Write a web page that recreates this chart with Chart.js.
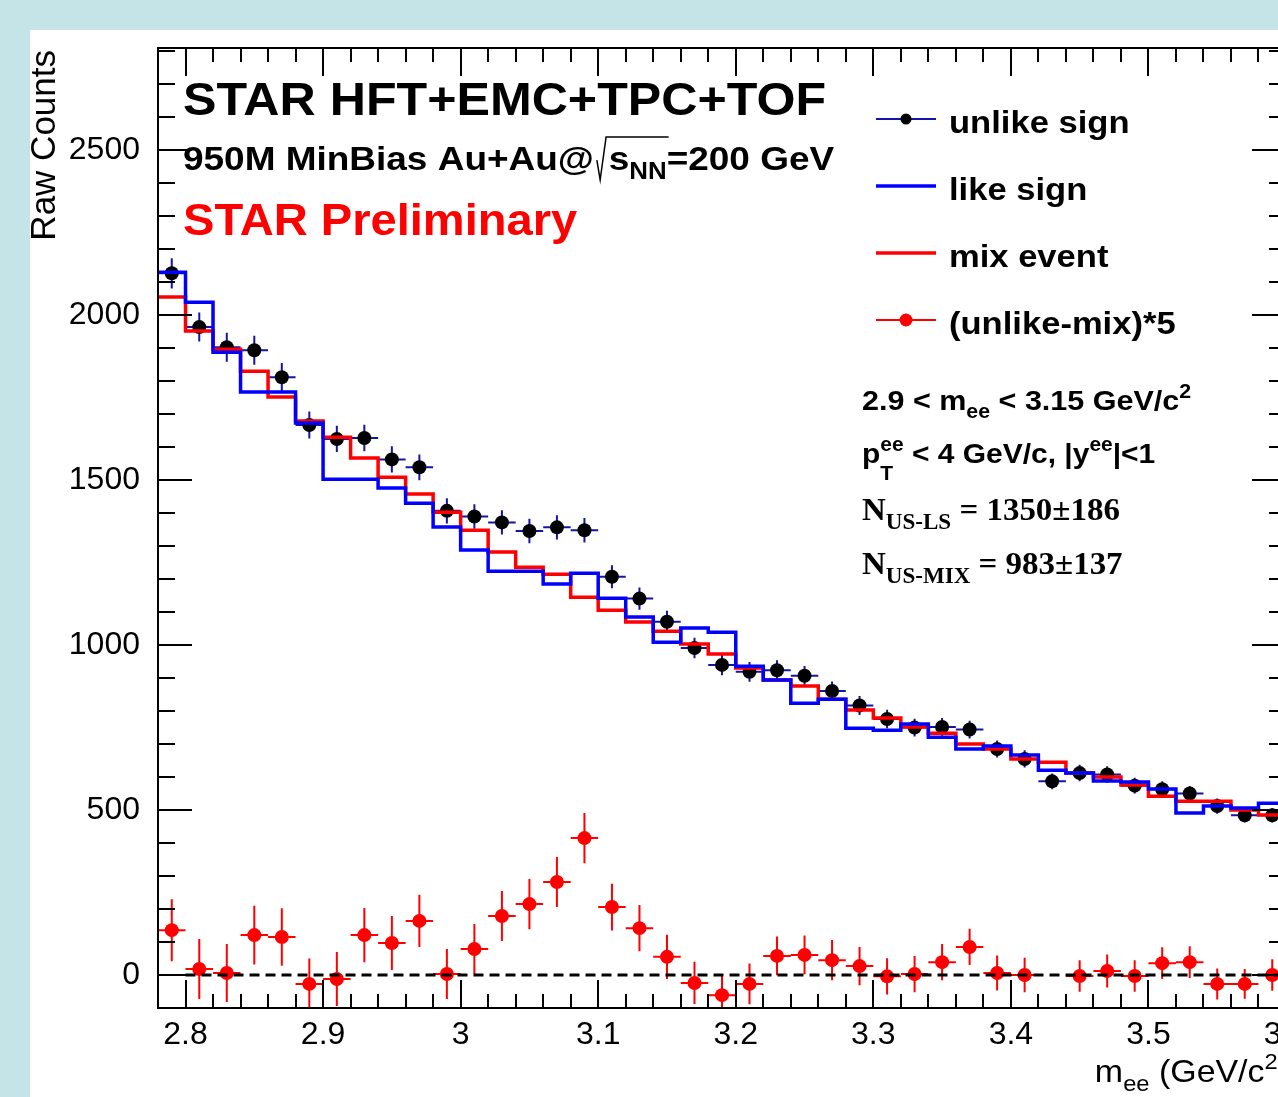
<!DOCTYPE html>
<html>
<head>
<meta charset="utf-8">
<script src="https://cdn.jsdelivr.net/npm/chart.js@4.4.1/dist/chart.umd.min.js"></script>
<style>
    html, body { margin: 0; padding: 0; overflow: hidden; width: 1278px; height: 1097px; background: #c4e4e7; }
    #panel { position: absolute; left: 30px; top: 30px; width: 1270px; height: 1067px; background: #fff; }
</style>
</head>
<body>
<div id="panel"><canvas id="massChart"></canvas></div>
<script>
const SANS = '"Liberation Sans", Arial, Helvetica, sans-serif';
const SERIF = '"Liberation Serif", "Times New Roman", serif';

// bin centres (GeV/c^2), bins are 0.02 wide
const massBins = [2.79, 2.81, 2.83, 2.85, 2.87, 2.89, 2.91, 2.93, 2.95, 2.97, 2.99,
    3.01, 3.03, 3.05, 3.07, 3.09, 3.11, 3.13, 3.15, 3.17, 3.19, 3.21, 3.23, 3.25, 3.27,
    3.29, 3.31, 3.33, 3.35, 3.37, 3.39, 3.41, 3.43, 3.45, 3.47, 3.49, 3.51, 3.53, 3.55,
    3.57, 3.59];
const binHalf = 0.01;

const unlikeSign = [2127, 1964, 1903, 1894, 1812, 1667, 1625, 1628, 1563, 1539, 1407,
    1390, 1372, 1346, 1357, 1348, 1207, 1141, 1071, 991, 940, 919, 924, 907, 861,
    817, 776, 750, 752, 744, 685, 655, 587, 612, 608, 574, 563, 550, 512, 484, 484];
const unlikeErr = [46, 44, 44, 44, 43, 41, 40, 40, 40, 39, 38, 37, 37, 37, 37, 37, 35,
    34, 33, 31, 31, 30, 30, 30, 29, 29, 28, 27, 27, 27, 26, 26, 24, 25, 25, 24, 24, 23,
    23, 22, 22];

const likeSign = [2130, 2039, 1888, 1767, 1767, 1673, 1503, 1503, 1476, 1430, 1358,
    1288, 1224, 1224, 1185, 1218, 1142, 1085, 1009, 1052, 1039, 936, 894, 824, 836,
    748, 742, 761, 721, 685, 694, 667, 621, 612, 588, 585, 564, 491, 512, 506, 521];

const mixEvent = [2055, 1952, 1897, 1830, 1752, 1679, 1630, 1567, 1509, 1458, 1403,
    1348, 1282, 1236, 1215, 1145, 1106, 1070, 1042, 1003, 973, 931, 894, 876, 836,
    803, 779, 752, 733, 700, 685, 655, 645, 612, 600, 576, 542, 527, 527, 500, 485];

const unlikeMinusMix = [136, 18, 6, 121, 115, -27, -12, 121, 97, 164, 3, 79, 179, 215,
    282, 415, 206, 142, 55, -24, -61, -27, 58, 61, 45, 27, -4, 3, 39, 85, 6, 0, null,
    -3, 12, -3, 36, 39, -27, -27, 0];
const unlikeMinusMixErr = [94, 91, 88, 89, 87, 77, 82, 82, 82, 79, 76, 76, 76, 76, 76,
    76, 71, 70, 67, 64, 61, 62, 59, 59, 61, 58, 55, 55, 55, 55, 53, 52, null, 48, 50, 48,
    48, 48, 47, 45, 48];

const xTickLabels = [2.8, 2.9, 3.0, 3.1, 3.2, 3.3, 3.4, 3.5, 3.6];
const yTickLabels = [0, 500, 1000, 1500, 2000, 2500];

function histPoints(values) {
    const pts = massBins.map((m, i) => ({ x: m - binHalf, y: values[i] }));
    pts.push({ x: massBins[massBins.length - 1] + binHalf, y: values[values.length - 1] });
    return pts;
}

function markerPoints(values) {
    return massBins.map((m, i) => ({ x: m, y: values[i] }));
}

// text with sub/superscripts; returns width drawn
function drawRich(ctx, x, y, parts, o) {
    const size = o.size, sx = o.sx || 1;
    const fontFor = s => `${o.weight || "normal"} ${s}px ${o.family || SANS}`;
    ctx.save();
    ctx.translate(x, y);
    ctx.scale(sx, 1);
    ctx.fillStyle = o.color || "#000";
    ctx.textBaseline = "alphabetic";
    ctx.textAlign = "left";
    let total = 0;
    parts.forEach(p => {
        ctx.font = fontFor(p.sub || p.sup ? size * 0.7 : size);
        if (!p.keep) total += ctx.measureText(p.t).width;
    });
    let cx = o.align === "right" ? -total : 0;
    parts.forEach(p => {
        const s = p.sub || p.sup ? size * 0.7 : size;
        ctx.font = fontFor(s);
        let dy = p.sub ? size * 0.28 : p.sup ? -size * 0.42 : 0;
        if (p.dy !== undefined) dy = size * p.dy;
        ctx.fillText(p.t, cx, dy);
        if (!p.keep) cx += ctx.measureText(p.t).width;
    });
    ctx.restore();
    return total * sx;
}

function drawErrorBars(chart, values, errors, color) {
    const ctx = chart.ctx, xs = chart.scales.x, ys = chart.scales.y;
    ctx.strokeStyle = color;
    ctx.lineWidth = 2;
    ctx.beginPath();
    massBins.forEach((m, i) => {
        const v = values[i];
        if (v === null) return;
        const px = xs.getPixelForValue(m), py = ys.getPixelForValue(v);
        ctx.moveTo(xs.getPixelForValue(m - binHalf), py);
        ctx.lineTo(xs.getPixelForValue(m + binHalf), py);
        ctx.moveTo(px, ys.getPixelForValue(v - errors[i]));
        ctx.lineTo(px, ys.getPixelForValue(v + errors[i]));
    });
    ctx.stroke();
}

// keep Chart.js from reserving room for half-labels at the axis ends
function noEdgePadding(s) {
    s.paddingTop = 0;
    s.paddingBottom = 0;
    s.paddingLeft = 0;
    s.paddingRight = 0;
}

const rootStyle = {
    id: "rootStyle",
    beforeDatasetsDraw(chart) {
        const ctx = chart.ctx, a = chart.chartArea;
        ctx.save();
        ctx.beginPath();
        ctx.rect(a.left, a.top, a.right - a.left, a.bottom - a.top);
        ctx.clip();
        drawErrorBars(chart, unlikeSign, unlikeErr, "#1414a8");
        drawErrorBars(chart, unlikeMinusMix, unlikeMinusMixErr, "#ff0000");
        ctx.restore();
    },
    afterDraw(chart) {
        const ctx = chart.ctx, a = chart.chartArea;
        const xs = chart.scales.x, ys = chart.scales.y;
        ctx.save();

        // frame + inward ticks, ROOT style
        ctx.strokeStyle = "#000";
        ctx.lineWidth = 2;
        ctx.strokeRect(a.left, a.top, a.right - a.left, a.bottom - a.top);
        ctx.beginPath();
        for (let k = 1; k < 41; k++) {
            const v = 2.78 + 0.02 * k;
            const major = Math.abs(v * 10 - Math.round(v * 10)) < 1e-6;
            const len = major ? 28 : 14;
            const px = Math.round(xs.getPixelForValue(v));
            ctx.moveTo(px, a.bottom); ctx.lineTo(px, a.bottom - len);
            ctx.moveTo(px, a.top); ctx.lineTo(px, a.top + len);
        }
        for (let v = 0; v <= 2800; v += 100) {
            const len = v % 500 === 0 ? 34 : 17;
            const py = Math.round(ys.getPixelForValue(v));
            ctx.moveTo(a.left, py); ctx.lineTo(a.left + len, py);
            ctx.moveTo(a.right, py); ctx.lineTo(a.right - len, py);
        }
        ctx.stroke();

        // axis titles
        drawRich(ctx, a.right + 3, a.bottom + 74,
            [{ t: "m" }, { t: "ee", sub: true }, { t: " (GeV/c" }, { t: "2", sup: true }, { t: ")" }],
            { size: 32, sx: 1.06, align: "right" });
        ctx.save();
        ctx.translate(a.left - 103, a.top + 2);
        ctx.rotate(-Math.PI / 2);
        ctx.font = `35px ${SANS}`;
        ctx.fillStyle = "#000";
        ctx.textAlign = "right";
        ctx.textBaseline = "alphabetic";
        ctx.fillText("Raw Counts", 0, 0);
        ctx.restore();

        // header texts
        const tx = a.left + 25;
        drawRich(ctx, tx, a.top + 67, [{ t: "STAR HFT+EMC+TPC+TOF" }],
            { size: 46, weight: "bold", sx: 1.09 });
        const b2 = a.top + 122, f2 = 33, s2 = 1.12;
        const w1 = drawRich(ctx, tx, b2, [{ t: "950M MinBias Au+Au@" }],
            { size: f2, weight: "bold", sx: s2 });
        const x0 = tx + w1 + 3;
        const w2 = drawRich(ctx, x0 + 0.36 * f2, b2, [{ t: "s" }, { t: "NN", sub: true }],
            { size: f2, weight: "bold", sx: s2 });
        ctx.lineWidth = 1.5;
        ctx.beginPath();
        ctx.moveTo(x0, b2 - 0.3 * f2);
        ctx.lineTo(x0 + 0.1 * f2, b2 + 0.3 * f2);
        ctx.lineTo(x0 + 0.28 * f2, b2 - 1.0 * f2);
        ctx.lineTo(x0 + 0.36 * f2 + w2 + 2, b2 - 1.0 * f2);
        ctx.stroke();
        drawRich(ctx, x0 + 0.36 * f2 + w2, b2, [{ t: "=200 GeV" }],
            { size: f2, weight: "bold", sx: s2 });
        drawRich(ctx, tx, a.top + 187, [{ t: "STAR Preliminary" }],
            { size: 44, weight: "bold", sx: 1.07, color: "#ff0000" });

        // legend
        const legend = [
            { label: "unlike sign", line: "#1414a8", lw: 2, dot: "#000" },
            { label: "like sign", line: "#0000ff", lw: 3.5 },
            { label: "mix event", line: "#ff0000", lw: 3.5 },
            { label: "(unlike-mix)*5", line: "#ff0000", lw: 2, dot: "#ff0000" }
        ];
        legend.forEach((e, i) => {
            const base = a.top + 85 + 67 * i, ly = base - 14;
            ctx.strokeStyle = e.line;
            ctx.lineWidth = e.lw;
            ctx.beginPath();
            ctx.moveTo(a.left + 718, ly);
            ctx.lineTo(a.left + 778, ly);
            ctx.stroke();
            if (e.dot) {
                ctx.fillStyle = e.dot;
                ctx.beginPath();
                ctx.arc(a.left + 748, ly, e.dot === "#000" ? 5.5 : 6.5, 0, Math.PI * 2);
                ctx.fill();
            }
            drawRich(ctx, a.left + 791, base, [{ t: e.label }], { size: 32, weight: "bold", sx: 1.08 });
        });

        // cut / yield annotations
        const ax = a.left + 704;
        drawRich(ctx, ax, a.top + 362,
            [{ t: "2.9 < m" }, { t: "ee", sub: true }, { t: " < 3.15 GeV/c" }, { t: "2", sup: true }],
            { size: 28, weight: "bold", sx: 1.09 });
        drawRich(ctx, ax, a.top + 415,
            [{ t: "p" }, { t: "T", sub: true, keep: true, dy: 0.6 }, { t: "ee", sup: true },
             { t: " < 4 GeV/c, |y" }, { t: "ee", sup: true }, { t: "|<1" }],
            { size: 28, weight: "bold", sx: 1.07 });
        drawRich(ctx, ax, a.top + 472,
            [{ t: "N" }, { t: "US-LS", sub: true }, { t: " = 1350\u00b1186" }],
            { size: 32, weight: "bold", family: SERIF, sx: 1.03 });
        drawRich(ctx, ax, a.top + 526,
            [{ t: "N" }, { t: "US-MIX", sub: true }, { t: " = 983\u00b1137" }],
            { size: 32, weight: "bold", family: SERIF, sx: 1.03 });

        ctx.restore();
    }
};

document.addEventListener("DOMContentLoaded", () => {
    const tickFont = { family: SANS, size: 32 };

    new Chart(document.getElementById("massChart"), {
        type: "line",
        data: {
            datasets: [
                {
                    label: "zero",
                    data: [{ x: 2.80, y: 0 }, { x: 3.60, y: 0 }],
                    borderColor: "#000",
                    borderWidth: 3,
                    borderDash: [10, 6],
                    pointRadius: 0
                },
                {
                    label: "like sign",
                    data: histPoints(likeSign),
                    stepped: true,
                    borderColor: "#0000ff",
                    borderWidth: 3.5,
                    pointRadius: 0,
                    fill: false
                },
                {
                    label: "mix event",
                    data: histPoints(mixEvent),
                    stepped: true,
                    borderColor: "#ff0000",
                    borderWidth: 3.5,
                    pointRadius: 0,
                    fill: false
                },
                {
                    label: "unlike sign",
                    data: markerPoints(unlikeSign),
                    showLine: false,
                    pointRadius: 7,
                    pointBorderWidth: 0,
                    pointBackgroundColor: "#000"
                },
                {
                    label: "(unlike-mix)*5",
                    data: markerPoints(unlikeMinusMix),
                    showLine: false,
                    pointRadius: 7,
                    pointBorderWidth: 0,
                    pointBackgroundColor: "#ff0000"
                }
            ]
        },
        options: {
            responsive: true,
            maintainAspectRatio: false,
            animation: false,
            layout: { padding: { top: 18, right: 14, left: 0, bottom: 0 } },
            plugins: {
                legend: { display: false },
                tooltip: { enabled: false }
            },
            scales: {
                x: {
                    type: "linear",
                    min: 2.78,
                    max: 3.60,
                    grid: { display: false },
                    border: { display: false },
                    afterBuildTicks: s => { s.ticks = xTickLabels.map(v => ({ value: v })); },
                    afterFit: s => { s.height = 89; noEdgePadding(s); },
                    ticks: {
                        autoSkip: false,
                        maxRotation: 0,
                        padding: 0,
                        color: "#000",
                        font: tickFont,
                        callback: v => String(parseFloat(v.toFixed(1)))
                    }
                },
                y: {
                    min: -100,
                    max: 2810,
                    grid: { display: false },
                    border: { display: false },
                    afterBuildTicks: s => { s.ticks = yTickLabels.map(v => ({ value: v })); },
                    afterFit: s => { s.width = 128; noEdgePadding(s); },
                    ticks: {
                        padding: 10,
                        color: "#000",
                        font: tickFont,
                        callback: v => String(v)
                    }
                }
            }
        },
        plugins: [rootStyle]
    });
});
</script>
</body>
</html>
